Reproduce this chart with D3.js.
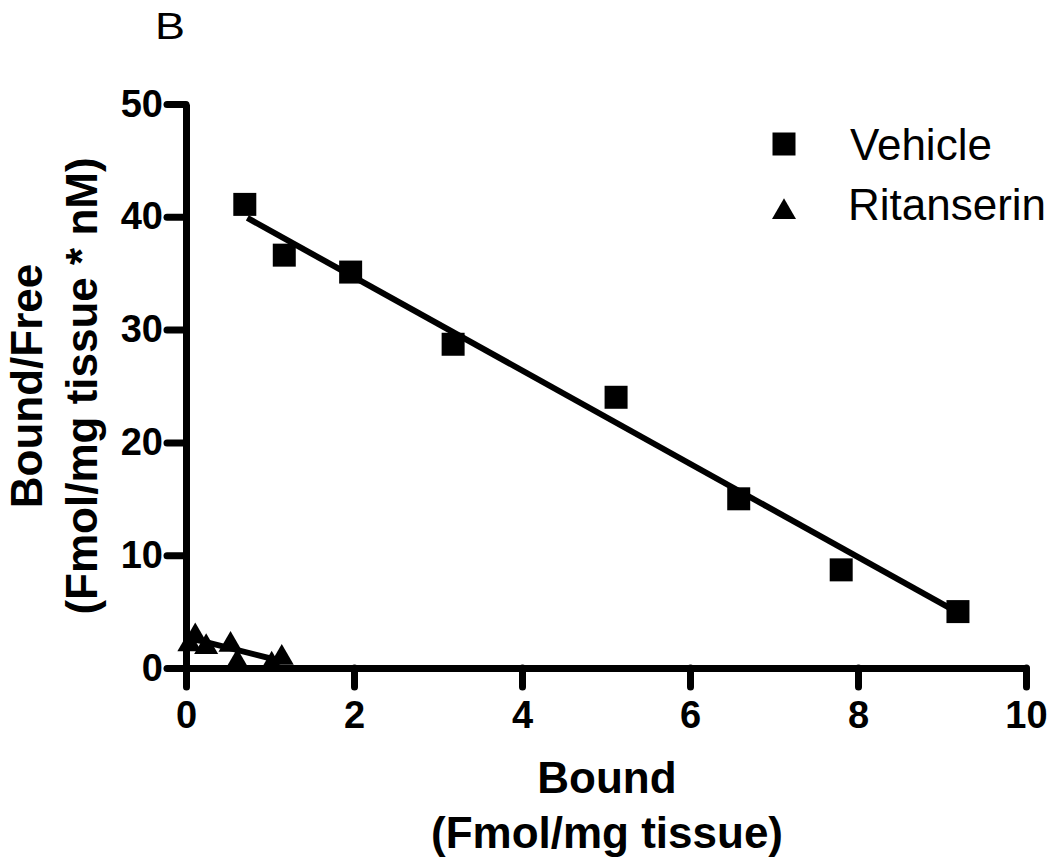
<!DOCTYPE html>
<head>
    <meta charset="utf-8">
    <script src="https://d3js.org/d3.v7.min.js"></script>
    <style type="text/css">
        html, body { margin: 0; background: #fff; }
        svg { display: block; }
        .axis text { font-family: "Liberation Sans", Arial, sans-serif; font-weight: bold; font-size: 38px; fill: #000; }
        .axis path, .axis line { stroke: #000; stroke-width: 7px; }
        .axis line { stroke-linecap: round; }
        .title { font-family: "Liberation Sans", Arial, sans-serif; font-weight: bold; font-size: 44px; }
        .legend { font-family: "Liberation Sans", Arial, sans-serif; font-size: 44px; }
    </style>
</head>
<body>
<script type="text/javascript">
    // values
    var vehicleBound = [0.70, 1.17, 1.96, 3.18, 5.12, 6.58, 7.80, 9.19],
        vehicleBF = [41.1, 36.6, 35.1, 28.7, 24.0, 15.0, 8.7, 5.0],
        ritBound = [0.04, 0.11, 0.24, 0.53, 0.61, 1.02, 1.14],
        ritBF = [2.1, 2.8, 1.85, 2.05, 0.5, 0.3, 0.9],
        vehicleFit = [[0.73, 39.9], [9.18, 4.96]],
        ritFit = [[0.05, 2.65], [1.14, 0.6]],
        xTicks = [0, 2, 4, 6, 8, 10],
        yTicks = [0, 10, 20, 30, 40, 50];

    var width = 1050, height = 858;

    var svg = d3.select("body").append("svg")
        .attr("width", width)
        .attr("height", height);

    var x = d3.scaleLinear().domain([0, 10]).range([186, 1026]),
        y = d3.scaleLinear().domain([0, 50]).range([668, 104]);

    svg.append("g")
        .attr("class", "axis")
        .attr("transform", "translate(0,668)")
        .call(d3.axisBottom(x).tickValues(xTicks).tickSize(19).tickSizeOuter(0).tickPadding(14));

    svg.append("g")
        .attr("class", "axis")
        .attr("transform", "translate(186,0)")
        .call(d3.axisLeft(y).tickValues(yTicks).tickSize(19).tickSizeOuter(0).tickPadding(4));

    var line = d3.line()
        .x(function(d) { return x(d[0]); })
        .y(function(d) { return y(d[1]); });

    svg.append("path").datum(vehicleFit)
        .attr("d", line).attr("fill", "none").attr("stroke", "#000").attr("stroke-width", 6);
    svg.append("path").datum(ritFit)
        .attr("d", line).attr("fill", "none").attr("stroke", "#000").attr("stroke-width", 6);

    var square = d3.symbol(d3.symbolSquare, 529),
        triangle = d3.symbol(d3.symbolTriangle, 250);

    svg.selectAll(".veh")
        .data(d3.zip(vehicleBound, vehicleBF))
        .enter().append("path")
        .attr("class", "veh")
        .attr("d", square)
        .attr("transform", function(d) { return "translate(" + x(d[0]) + "," + y(d[1]) + ")"; });

    svg.selectAll(".rit")
        .data(d3.zip(ritBound, ritBF))
        .enter().append("path")
        .attr("class", "rit")
        .attr("d", triangle)
        .attr("transform", function(d) { return "translate(" + x(d[0]) + "," + y(d[1]) + ")"; });

    // axis titles
    var xt = svg.append("text").attr("class", "title").attr("text-anchor", "middle");
    xt.append("tspan").attr("x", 607).attr("y", 793).text("Bound");
    xt.append("tspan").attr("x", 607).attr("y", 848).text("(Fmol/mg tissue)");

    var yt = svg.append("text").attr("class", "title").attr("text-anchor", "middle")
        .attr("transform", "rotate(-90)");
    yt.append("tspan").attr("x", -386).attr("y", 42).text("Bound/Free");
    yt.append("tspan").attr("x", -386).attr("y", 97).text("(Fmol/mg tissue * nM)");

    // legend
    svg.append("path").attr("d", square).attr("transform", "translate(784,144)");
    svg.append("text").attr("class", "legend").attr("x", 850).attr("y", 160).text("Vehicle");
    svg.append("path").attr("d", triangle).attr("transform", "translate(784,212)");
    svg.append("text").attr("class", "legend").attr("x", 848).attr("y", 220).text("Ritanserin");

    svg.append("text").attr("class", "legend").attr("x", 155).attr("y", 39)
        .attr("textLength", 30).attr("lengthAdjust", "spacingAndGlyphs")
        .style("font-size", "36px").text("B");
</script>
</body>
